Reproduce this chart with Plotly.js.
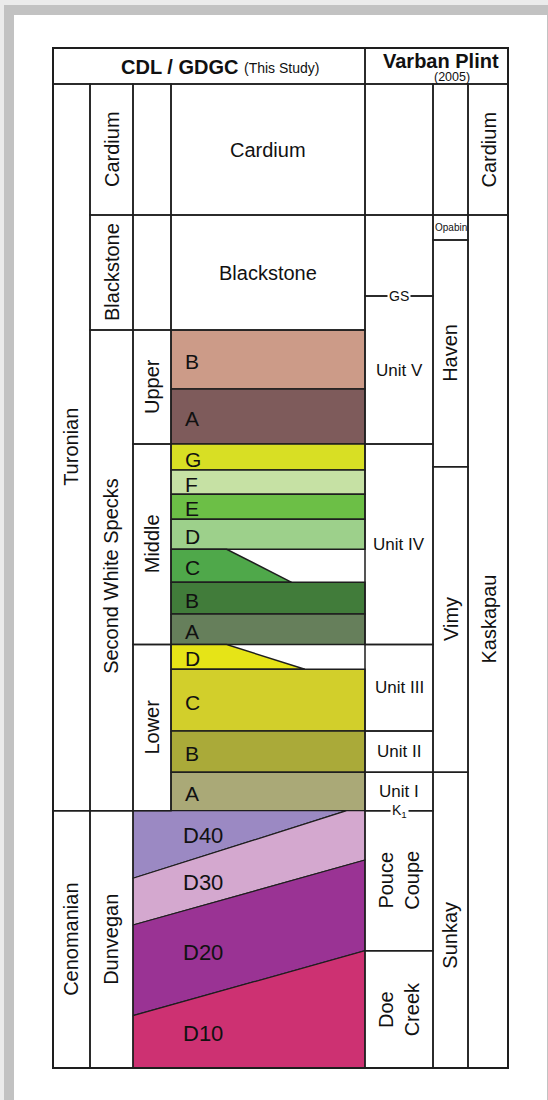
<!DOCTYPE html>
<html>
<head>
<meta charset="utf-8">
<script src="https://cdn.plot.ly/plotly-3.0.1.min.js"></script>
<style>
html,body{margin:0;padding:0;background:#ebebeb;width:548px;height:1100px;overflow:hidden;}
#frame{position:absolute;left:4px;top:5px;width:544px;height:1095px;background:#c2c2c2;}
#panel{position:absolute;left:14px;top:15px;width:533px;height:1085px;background:#ffffff;}
#chart{position:absolute;left:0;top:0;width:548px;height:1100px;}
</style>
</head>
<body>
<div id="frame"></div>
<div id="panel"></div>
<div id="chart"></div>
<script>
// ================= DATA (relative stratigraphic height: column top = 84, base = 1068) =================
const headerLeft = 'CDL / GDGC';
const headerLeftNote = '(This Study)';
const headerRight = 'Varban Plint';
const headerRightNote = '(2005)';

const stageNames = ['Turonian', 'Cenomanian'];
const stageTops = [84, 810.7];
const stageBases = [810.7, 1068];

const formationNames = ['Cardium', 'Blackstone', 'Second White Specks', 'Dunvegan'];
const formationTops = [84, 215, 330, 810.7];
const formationBases = [215, 330, 810.7, 1068];

const memberNames = ['', '', 'Upper', 'Middle', 'Lower'];
const memberTops = [84, 215, 330, 444, 644.5];
const memberBases = [215, 330, 444, 644.5, 810.7];

const upperUnitNames = ['Cardium', 'Blackstone'];
const upperUnitTops = [84, 215];
const upperUnitBases = [215, 330];

const swsUnitNames = ['B', 'A', 'G', 'F', 'E', 'D', 'C', 'B', 'A', 'D', 'C', 'B', 'A'];
const swsUnitTops  = [330, 389, 444, 470, 494.3, 519.3, 549.3, 582.3, 614, 644.5, 669.3, 731, 772.3];
const swsUnitBases = [389, 444, 470, 494.3, 519.3, 549.3, 582.3, 614, 644.5, 669.3, 731, 772.3, 810.7];
// lateral extent of each unit (fraction of column width) at its top and at its base
const swsExtentTop  = [1, 1, 1, 1, 1, 1, 0.287, 1, 1, 0.287, 1, 1, 1];
const swsExtentBase = [1, 1, 1, 1, 1, 1, 0.622, 1, 1, 0.69, 1, 1, 1];
const swsColors = ['#cc9b88', '#7e5b5b', '#d8df24', '#c6e1a4', '#6cbf46', '#9dd08b', '#4fa84a',
                   '#417c3a', '#667f5b', '#e6e417', '#d2cf2b', '#aaaa39', '#aaa977'];

const dunNames = ['D40', 'D30', 'D20', 'D10'];
// bounding surfaces (top of D40 ... base of D10), height at west (left) and east (right) edge
const dunSurfaceWest = [810.7, 878.3, 925, 1015.7, 1068];
const dunSurfaceEast = [810.7, 804.9, 860, 950.7, 1068];
const dunColors = ['#9b89c3', '#d4a8cf', '#9a3394', '#cd3172'];

const vpUnitNames = ['', '', 'Unit V', 'Unit IV', 'Unit III', 'Unit II', 'Unit I', 'Pouce<br>Coupe', 'Doe<br>Creek'];
const vpUnitTops  = [84, 215, 296, 444, 644.5, 731, 772.3, 810.7, 950.7];
const vpUnitBases = [215, 296, 444, 644.5, 731, 772.3, 810.7, 950.7, 1068];
const vpMarkerNames = ['GS', 'K<sub>1</sub>'];
const vpMarkerLevels = [296, 810.7];

const vpMemberNames = ['', 'Opabin', 'Haven', 'Vimy', 'Sunkay'];
const vpMemberTops  = [84, 215, 240, 466.7, 772.3];
const vpMemberBases = [215, 240, 466.7, 772.3, 1068];

const vpFormationNames = ['Cardium', 'Kaskapau'];
const vpFormationTops  = [84, 215];
const vpFormationBases = [215, 1068];

// ================= LAYOUT CONSTANTS =================
const X = {
  stage: [53, 90], formation: [90, 133], member: [133, 171], unit: [171, 365],
  dun: [133, 365], vpUnit: [365, 433], vpMember: [433, 468], vpFormation: [468, 508]
};
const HEADER_TOP = 48, COL_TOP = 84, COL_BASE = 1068;
const LINE = '#1e1e1e';
const FONT = 'Liberation Sans, Arial, Helvetica, sans-serif';
const TXT = '#111111';
const labelNudge = { 'Second White Specks': 6, 'Sunkay': 15, 'Kaskapau': -22 };

const shapes = [];
const annotations = [];
const traces = [];

function cells(xr, tops, bases, names, opts) {
  opts = opts || {};
  for (let i = 0; i < tops.length; i++) {
    shapes.push({type: 'rect', xref: 'x', yref: 'y', x0: xr[0], x1: xr[1], y0: tops[i], y1: bases[i],
                 line: {color: LINE, width: 1.5}, fillcolor: 'rgba(0,0,0,0)', layer: 'above'});
    if (names && names[i]) {
      const vertical = opts.vertical === undefined ? true : (typeof opts.vertical === 'function' ? opts.vertical(names[i]) : opts.vertical);
      annotations.push({
        xref: 'x', yref: 'y', x: (xr[0] + xr[1]) / 2, y: (tops[i] + bases[i]) / 2 + (labelNudge[names[i]] || 0),
        text: names[i], showarrow: false, textangle: vertical ? -90 : 0,
        xanchor: 'center', yanchor: 'middle',
        font: {family: FONT, size: (opts.size ? (typeof opts.size === 'function' ? opts.size(names[i]) : opts.size) : 20), color: TXT}
      });
    }
  }
}

// header
shapes.push({type: 'rect', xref: 'x', yref: 'y', x0: X.stage[0], x1: X.unit[1], y0: HEADER_TOP, y1: COL_TOP, line: {color: LINE, width: 1.5}});
shapes.push({type: 'rect', xref: 'x', yref: 'y', x0: X.vpUnit[0], x1: X.vpFormation[1], y0: HEADER_TOP, y1: COL_TOP, line: {color: LINE, width: 1.5}});
annotations.push({xref: 'x', yref: 'y', x: 240, y: 66.5, text: '<b>' + headerLeft + '</b>', showarrow: false,
  xanchor: 'right', yanchor: 'middle', font: {family: FONT, size: 20, color: TXT}});
annotations.push({xref: 'x', yref: 'y', x: 242, y: 67.5, text: headerLeftNote, showarrow: false,
  xanchor: 'left', yanchor: 'middle', font: {family: FONT, size: 14, color: TXT}});
annotations.push({xref: 'x', yref: 'y', x: 441, y: 61, text: '<b>' + headerRight + '</b>', showarrow: false,
  xanchor: 'center', yanchor: 'middle', font: {family: FONT, size: 20, color: TXT}});
annotations.push({xref: 'x', yref: 'y', x: 451.5, y: 76.5, text: headerRightNote, showarrow: false,
  xanchor: 'center', yanchor: 'middle', font: {family: FONT, size: 12.5, color: TXT}});

// Second White Specks units (polygons)
for (let i = 0; i < swsUnitNames.length; i++) {
  const x0 = X.unit[0], w = X.unit[1] - X.unit[0];
  const t = swsUnitTops[i], b = swsUnitBases[i];
  const xs = [x0, x0 + w * swsExtentTop[i], x0 + w * swsExtentBase[i], x0, x0];
  const ys = [t, t, b, b, t];
  traces.push({type: 'scatter', mode: 'lines', x: xs, y: ys, fill: 'toself', fillcolor: swsColors[i],
    line: {color: LINE, width: 1.5}, name: swsUnitNames[i], hoverinfo: 'name'});
  annotations.push({xref: 'x', yref: 'y', x: x0 + 12, y: (t + b) / 2 + 2, text: swsUnitNames[i], showarrow: false,
    xanchor: 'left', yanchor: 'middle', font: {family: FONT, size: 21, color: TXT}});
}

// Dunvegan units (polygons between sloping surfaces)
function surfacePts(i) {
  const xl = X.dun[0], xr = X.dun[1], top = dunSurfaceWest[0];
  const yl = dunSurfaceWest[i], yr = dunSurfaceEast[i];
  if (yr < top) {
    const xc = xl + (top - yl) / (yr - yl) * (xr - xl);
    return [[xl, yl], [xc, top], [xr, top]];
  }
  return [[xl, yl], [xr, yr]];
}
function surfaceY(i, x) {
  const xl = X.dun[0], xr = X.dun[1], top = dunSurfaceWest[0];
  const y = dunSurfaceWest[i] + (dunSurfaceEast[i] - dunSurfaceWest[i]) * (x - xl) / (xr - xl);
  return Math.max(y, top);
}
for (let i = 0; i < dunNames.length; i++) {
  const pts = surfacePts(i).concat(surfacePts(i + 1).reverse());
  pts.push(pts[0]);
  traces.push({type: 'scatter', mode: 'lines', x: pts.map(p => p[0]), y: pts.map(p => p[1]), fill: 'toself',
    fillcolor: dunColors[i], line: {color: LINE, width: 1.2}, name: dunNames[i], hoverinfo: 'name'});
  const lx = X.dun[0] + 72;
  annotations.push({xref: 'x', yref: 'y', x: X.dun[0] + 48, y: (surfaceY(i, lx) + surfaceY(i + 1, lx)) / 2 + 2,
    text: dunNames[i], showarrow: false, xanchor: 'left', yanchor: 'middle', font: {family: FONT, size: 22, color: TXT}});
}

// columns of cells
cells(X.stage, stageTops, stageBases, stageNames);
cells(X.formation, formationTops, formationBases, formationNames);
cells(X.member, memberTops, memberBases, memberNames);
cells(X.unit, upperUnitTops, upperUnitBases, upperUnitNames, {vertical: false});
cells(X.vpUnit, vpUnitTops, vpUnitBases, vpUnitNames, {vertical: n => n.indexOf('<br>') >= 0, size: n => n.indexOf('<br>') >= 0 ? 20 : 17});
cells(X.vpMember, vpMemberTops, vpMemberBases, vpMemberNames, {vertical: n => n !== 'Opabin', size: n => n === 'Opabin' ? 10 : 20});
cells(X.vpFormation, vpFormationTops, vpFormationBases, vpFormationNames);

// marker horizons
for (let i = 0; i < vpMarkerNames.length; i++) {
  annotations.push({xref: 'x', yref: 'y', x: (X.vpUnit[0] + X.vpUnit[1]) / 2, y: vpMarkerLevels[i],
    text: vpMarkerNames[i], showarrow: false, xanchor: 'center', yanchor: 'middle', bgcolor: '#ffffff', borderpad: 1,
    font: {family: FONT, size: 14, color: TXT}});
}

// outer frame
shapes.push({type: 'rect', xref: 'x', yref: 'y', x0: X.stage[0], x1: X.vpFormation[1], y0: HEADER_TOP, y1: COL_BASE,
  line: {color: LINE, width: 2}});

const layout = {
  width: 548, height: 1100,
  margin: {l: 48, r: 35, t: 43, b: 27, pad: 0},
  paper_bgcolor: 'rgba(0,0,0,0)', plot_bgcolor: 'rgba(0,0,0,0)',
  xaxis: {range: [48, 513], visible: false, fixedrange: true},
  yaxis: {range: [1073, 43], visible: false, fixedrange: true},
  showlegend: false,
  font: {family: FONT, color: TXT},
  shapes: shapes, annotations: annotations
};
Plotly.newPlot('chart', traces, layout, {displayModeBar: false, staticPlot: true});
</script>
</body>
</html>
